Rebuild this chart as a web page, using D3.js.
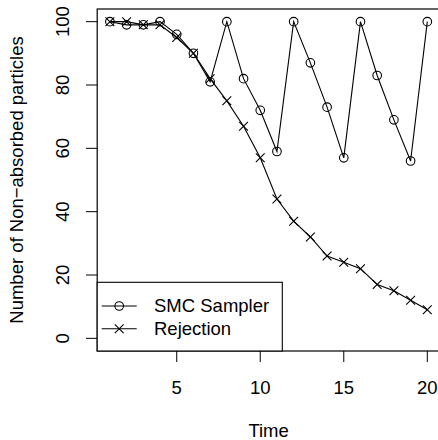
<!DOCTYPE html>
<html>
<head>
<meta charset="utf-8">
<script src="https://cdn.jsdelivr.net/npm/d3@7"></script>
<style>
  body { margin: 0; background: #fff; }
  text { font-family: "Liberation Sans", Arial, sans-serif; fill: #000; }
</style>
</head>
<body>
<svg id="chart" width="438" height="440"></svg>
<script>
// data
var time = d3.range(1, 21);
var smcSampler = [100, 99, 99, 100, 96, 90, 81, 100, 82, 72, 59, 100, 87, 73, 57, 100, 83, 69, 56, 100];
var rejection = [100, 100, 99, 99, 95, 90, 82, 75, 67, 57, 44, 37, 32, 26, 24, 22, 17, 15, 12, 9];
var xTicks = [5, 10, 15, 20];
var yTicks = [0, 20, 40, 60, 80, 100];
var legendLabels = ["SMC Sampler", "Rejection"];

const svg = d3.select("#chart");
const fs = 18.5;

// R-like 4% axis extension
const xScale = d3.scaleLinear().domain([0.24, 20.76]).range([97.2, 440]);
const yScale = d3.scaleLinear().domain([-4, 104]).range([351, 9]);

// y axis
yTicks.forEach(function (t) {
  svg.append("line")
    .attr("x1", 86).attr("x2", 97.2)
    .attr("y1", yScale(t)).attr("y2", yScale(t))
    .attr("stroke", "#000").attr("stroke-width", 1);
  svg.append("text")
    .attr("transform", "translate(69," + yScale(t) + ") rotate(-90)")
    .attr("text-anchor", "middle")
    .attr("font-size", fs)
    .text(t);
});

// x axis
xTicks.forEach(function (t) {
  svg.append("line")
    .attr("x1", xScale(t)).attr("x2", xScale(t))
    .attr("y1", 351).attr("y2", 362)
    .attr("stroke", "#000").attr("stroke-width", 1);
  svg.append("text")
    .attr("x", xScale(t)).attr("y", 394)
    .attr("text-anchor", "middle")
    .attr("font-size", fs)
    .text(t);
});

svg.append("text")
  .attr("x", xScale(10.5)).attr("y", 437)
  .attr("text-anchor", "middle")
  .attr("font-size", fs)
  .text("Time");

svg.append("text")
  .attr("transform", "translate(23," + yScale(50) + ") rotate(-90)")
  .attr("text-anchor", "middle")
  .attr("font-size", fs)
  .text("Number of Non\u2212absorbed particles");

// plot box
svg.append("rect")
  .attr("x", 97.2).attr("y", 9)
  .attr("width", 440 - 97.2).attr("height", 351 - 9)
  .attr("fill", "none").attr("stroke", "#000").attr("stroke-width", 1.2);

const line = d3.line()
  .x((d, i) => xScale(time[i]))
  .y((d) => yScale(d));

function drawCircle(g, x, y) {
  g.append("circle")
    .attr("cx", x).attr("cy", y).attr("r", 4.3)
    .attr("fill", "none").attr("stroke", "#000").attr("stroke-width", 1.1);
}
function drawCross(g, x, y) {
  const s = 4.4;
  g.append("path")
    .attr("d", "M" + (x - s) + "," + (y - s) + "L" + (x + s) + "," + (y + s) +
               "M" + (x - s) + "," + (y + s) + "L" + (x + s) + "," + (y - s))
    .attr("stroke", "#000").attr("stroke-width", 1.1).attr("fill", "none");
}

// rejection
svg.append("path")
  .datum(rejection)
  .attr("d", line)
  .attr("fill", "none").attr("stroke", "#000").attr("stroke-width", 1.1);
rejection.forEach(function (v, i) { drawCross(svg, xScale(time[i]), yScale(v)); });

// smc sampler
svg.append("path")
  .datum(smcSampler)
  .attr("d", line)
  .attr("fill", "none").attr("stroke", "#000").attr("stroke-width", 1.1);
smcSampler.forEach(function (v, i) { drawCircle(svg, xScale(time[i]), yScale(v)); });

// legend
const lg = svg.append("g");
lg.append("rect")
  .attr("x", 97.2).attr("y", 282.3)
  .attr("width", 282.3 - 97.2).attr("height", 351 - 282.3)
  .attr("fill", "#fff").attr("stroke", "#000").attr("stroke-width", 1.1);
const legendY = [306, 328.7];
const markers = [drawCircle, drawCross];
legendLabels.forEach(function (label, i) {
  lg.append("line")
    .attr("x1", 101.7).attr("x2", 136.7)
    .attr("y1", legendY[i]).attr("y2", legendY[i])
    .attr("stroke", "#000").attr("stroke-width", 1.1);
  markers[i](lg, 119.2, legendY[i]);
  lg.append("text")
    .attr("x", 154).attr("y", legendY[i])
    .attr("dy", "0.35em")
    .attr("font-size", fs)
    .text(label);
});
</script>
</body>
</html>
